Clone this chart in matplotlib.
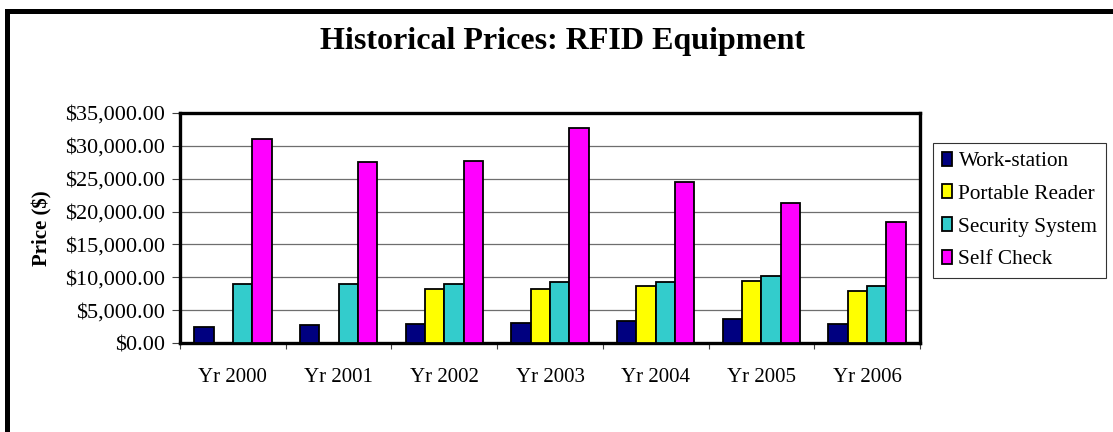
#!/usr/bin/env python3

import matplotlib.pyplot as plt
import numpy as np
from matplotlib.lines import Line2D
from matplotlib.ticker import FuncFormatter

# chart data
years = ['Yr 2000', 'Yr 2001', 'Yr 2002', 'Yr 2003', 'Yr 2004', 'Yr 2005', 'Yr 2006']
workstation = [2400, 2700, 2850, 3000, 3400, 3650, 2950]
portable_reader = [0, 0, 8200, 8200, 8600, 9450, 7850]
security_system = [9000, 9050, 9050, 9300, 9250, 10250, 8750]
self_check = [31100, 27600, 27750, 32700, 24450, 21350, 18350]

series_names = ['Work-station', 'Portable Reader', 'Security System', 'Self Check']
colors = ['#000080', '#FFFF00', '#33CCCC', '#FF00FF']

plt.rcParams['font.family'] = ['Liberation Serif', 'DejaVu Serif']

fig = plt.figure(figsize=(11.13, 4.32), dpi=100)
ax = fig.add_axes([180 / 1113, 1 - 343 / 432, 740 / 1113, 230 / 432])

x = np.arange(len(years))
width = 0.183
all_series = [workstation, portable_reader, security_system, self_check]
for i, (vals, name, c) in enumerate(zip(all_series, series_names, colors)):
    ax.bar(x + (i - 1.5) * width, vals, width, color=c, edgecolor='black',
           linewidth=1.3, label=name, zorder=3)

ax.set_xlim(-0.5, len(years) - 0.5)
ax.set_ylim(0, 35000)
ax.set_yticks(np.arange(0, 35001, 5000))
ax.yaxis.set_major_formatter(FuncFormatter(lambda v, p: '${:,.2f}'.format(v)))
ax.grid(True, axis='y', color='#6e6e6e', linewidth=0.9, zorder=0)

# ticks between categories, labels in the middle
ax.set_xticks(np.arange(-0.5, len(years), 1.0))
ax.set_xticklabels([])
ax.set_xticks(x, minor=True)
ax.set_xticklabels(years, minor=True)
ax.tick_params(axis='x', which='major', direction='out', length=4, width=0.8, color='#404040')
ax.tick_params(axis='x', which='minor', length=0, pad=18, labelsize=15)
ax.tick_params(axis='y', direction='out', length=6, width=0.8, pad=5, labelsize=16, color='#404040')

for s in ax.spines.values():
    s.set_linewidth(2.4)
    s.set_color('black')

ax.set_ylabel('Price ($)', fontsize=15, fontweight='bold')
ax.yaxis.set_label_coords(-0.172, 0.5)

fig.text(0.5054, 1 - 42 / 432, 'Historical Prices: RFID Equipment',
         ha='center', va='center', fontsize=23, fontweight='bold')

leg = fig.legend(loc='upper left', bbox_to_anchor=(933 / 1113, 1 - 143 / 432),
                 frameon=True, fancybox=False, edgecolor='black', fontsize=15.3,
                 handlelength=0.5, handleheight=0.65, handletextpad=0.3,
                 labelspacing=0.62, borderpad=0.4, borderaxespad=0)
leg.get_frame().set_linewidth(0.8)

# outer chart border (runs off the right and bottom edges)
fig.add_artist(Line2D([6.5 / 1113, 1.0], [1 - 10.5 / 432, 1 - 10.5 / 432],
                      transform=fig.transFigure, color='black', linewidth=3.6))
fig.add_artist(Line2D([6.5 / 1113, 6.5 / 1113], [0, 1 - 10.5 / 432],
                      transform=fig.transFigure, color='black', linewidth=3.6))

plt.savefig('out.png', dpi=100)
plt.close()
